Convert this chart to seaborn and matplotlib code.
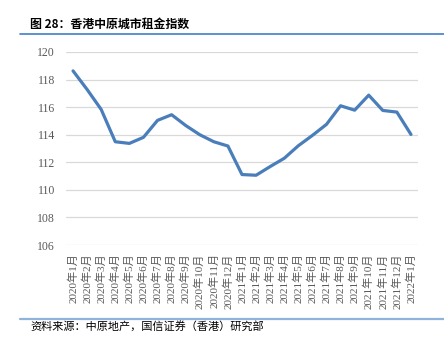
import matplotlib
matplotlib.use('Agg')
import matplotlib.pyplot as plt
import seaborn as sns
import pandas as pd
from matplotlib.lines import Line2D

# 数据
months = ['2020年1月', '2020年2月', '2020年3月', '2020年4月', '2020年5月', '2020年6月',
          '2020年7月', '2020年8月', '2020年9月', '2020年10月', '2020年11月', '2020年12月',
          '2021年1月', '2021年2月', '2021年3月', '2021年4月', '2021年5月', '2021年6月',
          '2021年7月', '2021年8月', '2021年9月', '2021年10月', '2021年11月', '2021年12月',
          '2022年1月']
rent_index = [118.63, 117.28, 115.83, 113.49, 113.37, 113.81, 115.04, 115.45, 114.67,
              114.00, 113.49, 113.18, 111.11, 111.06, 111.69, 112.29, 113.20, 113.95,
              114.75, 116.10, 115.78, 116.87, 115.76, 115.64, 114.02]
y_ticks = [106, 108, 110, 112, 114, 116, 118, 120]

df = pd.DataFrame({'month': months, 'index': rent_index})

sns.set_style('white')
plt.rcParams['font.family'] = ['Liberation Serif', 'Noto Sans CJK SC', 'DejaVu Sans']

fig = plt.figure(figsize=(4.44, 3.52), dpi=100)
ax = fig.add_axes([66/444, 1 - 245/352, (418 - 66)/444, (245 - 52)/352])

sns.lineplot(data=df, x='month', y='index', sort=False, ax=ax,
             color='#4A7EBB', linewidth=2.3)

ax.set_xlim(-0.5, len(months) - 0.5)
ax.set_ylim(106, 120)
ax.set_yticks(y_ticks)
ax.yaxis.grid(True, color='#D9D9D9', linewidth=0.9)
ax.set_axisbelow(True)
for s in ax.spines.values():
    s.set_visible(False)
ax.set_xlabel('')
ax.set_ylabel('')
ax.tick_params(axis='y', length=0, pad=8, labelsize=8.5, labelcolor='#595959')
ax.tick_params(axis='x', length=0, pad=6, labelsize=8, labelcolor='#595959')
plt.setp(ax.get_xticklabels(), rotation=90, va='top', ha='center')

# 标题和分隔线
fig.text(30/444, 1 - 24/352, '图 28：香港中原城市租金指数', fontsize=8.6, fontweight='bold',
         family=['Noto Sans CJK SC', 'DejaVu Sans'], va='center', ha='left', color='#000000')
fig.add_artist(Line2D([20/444, 1], [1 - 33.5/352, 1 - 33.5/352], color='#3F7FC5', linewidth=1.2))
fig.add_artist(Line2D([20/444, 1], [1 - 319/352, 1 - 319/352], color='#8EB4DC', linewidth=1.6))
fig.text(30/444, 1 - 326/352, '资料来源：中原地产，国信证券（香港）研究部', fontsize=8,
         family=['Noto Sans CJK SC', 'DejaVu Sans'], va='center', ha='left', color='#000000')

fig.savefig('out.png', dpi=100)
